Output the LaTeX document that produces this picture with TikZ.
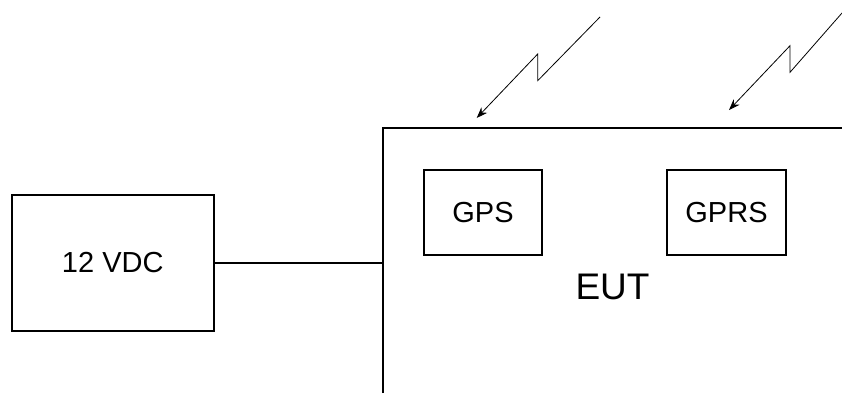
\documentclass[tikz,border=0pt]{standalone}
\usepackage{fontspec}
\setmainfont{Liberation Sans}
\usetikzlibrary{arrows.meta}
\tikzset{
  unitbox/.style={draw, line width=2pt, rectangle, inner sep=0pt, font=\fontsize{29}{32}\selectfont},
  wire/.style={line width=2pt},
  bolt/.style={line width=0.8pt, -{Stealth[length=11pt,width=8pt]}},
}
\begin{document}
\begin{tikzpicture}[x=1pt,y=-1pt]
\useasboundingbox (0,0) rectangle (842,394);
% supply and equipment boxes
\node[unitbox, minimum width=201.5pt, minimum height=135.7pt] (vdc) at (112.75,262.85) {12 VDC};
\node[unitbox, minimum width=118pt, minimum height=85pt] (gps) at (483,212.5) {GPS};
\node[unitbox, minimum width=119pt, minimum height=85pt] (gprs) at (726.5,212.5) {GPRS};
\node[font=\fontsize{37}{40}\selectfont, inner sep=0pt] (eut) at (612.5,287) {EUT};
% outline of the equipment under test
\coordinate (fbot) at (382.7,393);
\coordinate (fcorner) at (382.7,128.3);
\coordinate (fright) at (842,128.3);
\draw[wire] (fbot) -- (fcorner) -- (fright);
% power feed
\coordinate (feed) at (382.7,263.3);
\draw[wire] (vdc.east |- feed) -- (feed);
% incoming radio signals
\coordinate (a0) at (600,17);
\coordinate (a1) at (537.7,80.7);
\coordinate (a2) at (537.7,54);
\coordinate (a3) at (476.7,118);
\draw[bolt] (a0) -- (a1) -- (a2) -- (a3);
\coordinate (b0) at (842,13);
\coordinate (b1) at (790,72.3);
\coordinate (b2) at (790,45.7);
\coordinate (b3) at (729,110);
\draw[bolt] (b0) -- (b1) -- (b2) -- (b3);
\end{tikzpicture}
\end{document}
